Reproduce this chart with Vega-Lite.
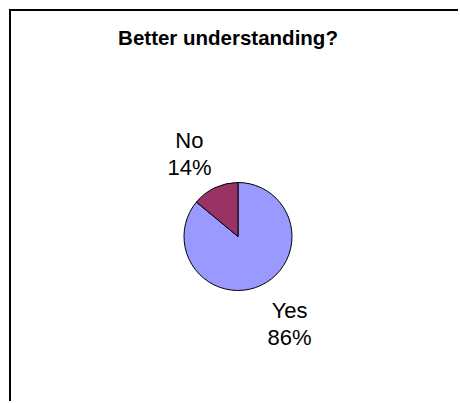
{
  "$schema": "https://vega.github.io/schema/vega-lite/v6.json",
  "width": 456,
  "height": 453,
  "autosize": {"type": "none"},
  "padding": {"left": 10, "top": 10, "right": -8, "bottom": -62},
  "background": "white",
  "view": {"stroke": "black", "strokeWidth": 2, "fill": "white"},
  "config": {
    "view": {"stroke": "black", "strokeWidth": 2},
    "font": "Liberation Sans"
  },
  "title": {
    "text": "Better understanding?",
    "font": "Liberation Sans",
    "fontSize": 20.5,
    "fontWeight": "bold",
    "color": "black",
    "offset": -55,
    "baseline": "alphabetic",
    "dx": -10
  },
  "data": {
    "values": [
      {"answer": "Yes", "pct": 86, "label": "Yes\n86%"},
      {"answer": "No", "pct": 14, "label": "No\n14%"}
    ]
  },
  "encoding": {
    "theta": {"field": "pct", "type": "quantitative", "stack": true},
    "order": {"field": "pct", "sort": "descending"}
  },
  "layer": [
    {
      "mark": {"type": "arc", "outerRadius": 54, "stroke": "black", "strokeWidth": 1},
      "encoding": {
        "color": {
          "field": "answer",
          "type": "nominal",
          "scale": {"domain": ["Yes", "No"], "range": ["#9999FF", "#993366"]},
          "legend": null
        }
      }
    },
    {
      "mark": {"type": "text", "radius": 100, "dx": -6, "dy": -5, "fontSize": 22, "lineHeight": 27, "lineBreak": "\n", "color": "black", "font": "Liberation Sans", "align": "center", "baseline": "middle"},
      "encoding": {
        "text": {"condition": {"test": "datum.answer === 'No'", "field": "label"}, "value": ""}
      }
    },
    {
      "mark": {"type": "text", "radius": 100, "dx": 9, "dy": -16, "fontSize": 22, "lineHeight": 27, "lineBreak": "\n", "color": "black", "font": "Liberation Sans", "align": "center", "baseline": "middle"},
      "encoding": {
        "text": {"condition": {"test": "datum.answer === 'Yes'", "field": "label"}, "value": ""}
      }
    }
  ]
}
